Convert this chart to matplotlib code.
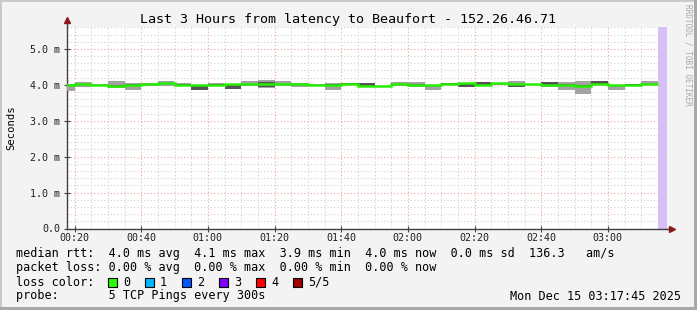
import matplotlib
matplotlib.use("Agg")
import matplotlib.pyplot as plt
from matplotlib.patches import Rectangle
import numpy as np

# ---------------- data ----------------
# interval start times in minutes after midnight (5-minute steps)
step_start = [15, 20, 25, 30, 35, 40, 45, 50, 55, 60, 65, 70, 75, 80, 85, 90, 95, 100,
              105, 110, 115, 120, 125, 130, 135, 140, 145, 150, 155, 160, 165, 170,
              175, 180, 185, 190]
median_ms = [4.00, 4.02, 4.00, 3.98, 4.00, 4.03, 4.06, 4.00, 4.00, 4.00, 4.02, 4.03,
             4.02, 4.02, 4.03, 4.00, 4.00, 4.02, 3.98, 3.97, 4.02, 4.00, 4.00, 4.01,
             4.04, 3.99, 4.05, 4.03, 4.02, 3.99, 4.00, 3.98, 4.02, 3.99, 4.00, 4.01]
smoke_lo = [3.84, 3.94, 3.98, 3.90, 3.86, 3.98, 3.97, 3.97, 3.86, 3.97, 3.88, 3.97,
            3.90, 3.97, 3.93, 3.96, 3.85, 3.99, 3.97, 3.96, 3.97, 3.94, 3.85, 4.00,
            3.93, 3.97, 4.00, 3.95, 3.99, 3.93, 3.85, 3.75, 4.00, 3.86, 3.98, 4.00]
smoke_hi = [4.02, 4.08, 4.01, 4.11, 4.05, 4.05, 4.11, 4.05, 4.00, 4.04, 4.02, 4.10,
            4.13, 4.10, 4.05, 4.01, 4.05, 4.05, 4.05, 3.98, 4.07, 4.08, 4.00, 4.05,
            4.05, 4.08, 4.06, 4.11, 4.03, 4.07, 4.08, 4.11, 4.10, 4.00, 4.02, 4.10]
inner_lo = [3.98, 3.99, 3.97, 3.96, 3.97, 4.00, 4.03, 3.99, 3.86, 3.99, 3.89, 4.00,
            3.93, 4.00, 4.00, 3.97, 3.99, 4.00, 3.98, 3.97, 4.00, 3.99, 3.99, 4.00,
            3.95, 3.99, 4.03, 3.95, 4.01, 3.97, 3.96, 3.97, 4.02, 3.98, 3.99, 4.01]
inner_hi = [4.00, 4.02, 4.00, 3.99, 4.01, 4.03, 4.06, 4.01, 4.00, 4.01, 4.01, 4.03,
            4.07, 4.02, 4.03, 4.00, 4.01, 4.05, 4.05, 3.97, 4.03, 4.01, 4.00, 4.05,
            4.03, 4.08, 4.05, 4.00, 4.02, 4.07, 4.02, 4.00, 4.10, 4.00, 4.01, 4.02]
unknown_span = [195, 197.75]
x_range = [17.75, 197.75]
y_max = 5.61
x_ticks = [20, 40, 60, 80, 100, 120, 140, 160, 180]
x_tick_labels = ["00:20", "00:40", "01:00", "01:20", "01:40", "02:00", "02:20", "02:40", "03:00"]
y_ticks = [0.0, 1.0, 2.0, 3.0, 4.0, 5.0]
y_tick_labels = ["0.0", "1.0 m", "2.0 m", "3.0 m", "4.0 m", "5.0 m"]

title = "Last 3 Hours from latency to Beaufort - 152.26.46.71"
line_rtt = "median rtt:  4.0 ms avg  4.1 ms max  3.9 ms min  4.0 ms now  0.0 ms sd  136.3   am/s"
line_loss = "packet loss: 0.00 % avg  0.00 % max  0.00 % min  0.00 % now"
loss_labels = ["0", "1", "2", "3", "4", "5/5"]
loss_colors = ["#26ff00", "#00b8ff", "#0059ff", "#7e00ff", "#ff0000", "#a10000"]
line_probe = "probe:       5 TCP Pings every 300s"
stamp = "Mon Dec 15 03:17:45 2025"

# ---------------- figure ----------------
W, H = 697, 310
fig = plt.figure(figsize=(W / 100, H / 100), dpi=100)
fig.patch.set_facecolor("#f3f3f3")
mono = "DejaVu Sans Mono"

def fx(px):
    return px / W

def fy(py):
    return 1 - py / H

# frame
fig.patches.append(Rectangle((0, 0), 1, 1, transform=fig.transFigure, fill=False,
                             edgecolor="#c8c8c8", linewidth=2.0, zorder=0))
fig.patches.append(Rectangle((fx(W - 3), 0), fx(3), 1, transform=fig.transFigure,
                             facecolor="#a8a8a8", edgecolor="none", zorder=0))
fig.patches.append(Rectangle((0, 0), 1, 3 / H, transform=fig.transFigure,
                             facecolor="#a8a8a8", edgecolor="none", zorder=0))

ax_l, ax_r, ax_t, ax_b = 67, 667, 27, 228.5
ax = fig.add_axes([fx(ax_l), fy(ax_b), fx(ax_r - ax_l), (ax_b - ax_t) / H])
ax.set_facecolor("white")
ax.set_xlim(*x_range)
ax.set_ylim(0, y_max)

# grid
for xv in np.arange(20, 197, 5):
    if xv % 20 == 0:
        ax.axvline(xv, color="#f4a0a0", lw=0.8, ls=(0, (1, 2)), zorder=1)
    else:
        ax.axvline(xv, color="#d0d0d0", lw=0.8, ls=(0, (1, 2)), zorder=1)
for yv in np.arange(0.2, y_max, 0.2):
    if abs(yv - round(yv)) < 1e-6:
        ax.axhline(yv, color="#f4a0a0", lw=0.8, ls=(0, (1, 2)), zorder=1)
    else:
        ax.axhline(yv, color="#d0d0d0", lw=0.8, ls=(0, (1, 2)), zorder=1)

# unknown area
ax.axvspan(unknown_span[0], unknown_span[1], color="#d6c0f6", lw=0, zorder=2)

# smoke
starts = np.array(step_start, dtype=float)
lo = np.array(smoke_lo); hi = np.array(smoke_hi)
ilo = np.array(inner_lo); ihi = np.array(inner_hi)
ax.bar(starts, hi - lo, width=5, bottom=lo, align="edge", color="#a2a2a2", lw=0, zorder=3)
ax.bar(starts, ihi - ilo, width=5, bottom=ilo, align="edge", color="#545454", lw=0, zorder=4)

# median
edges = np.append(starts, starts[-1] + 5)
ax.stairs(median_ms, edges, baseline=None, color="#26ee00", lw=1.8, zorder=5)

# axes styling
for s in ["top", "right"]:
    ax.spines[s].set_visible(False)
for s in ["left", "bottom"]:
    ax.spines[s].set_color("#404040")
    ax.spines[s].set_linewidth(1.0)
ax.set_xticks(x_ticks)
ax.set_xticklabels(x_tick_labels, fontfamily=mono, fontsize=7.2, color="#202020")
ax.set_yticks(y_ticks)
ax.set_yticklabels(y_tick_labels, fontfamily=mono, fontsize=7.2, color="#202020")
ax.tick_params(axis="both", direction="inout", length=4, width=0.8, color="#404040")
ax.tick_params(axis="y", pad=3)
ax.tick_params(axis="x", pad=1.5)

# axis arrows
ax.plot([0, 0], [1, 1.035], transform=ax.transAxes, color="#404040", lw=1.0, clip_on=False)
ax.plot([0], [1.035], marker="^", ms=4.5, color="#8b1a1a", transform=ax.transAxes, clip_on=False)
ax.plot([1, 1.008], [0, 0], transform=ax.transAxes, color="#404040", lw=1.0, clip_on=False)
ax.plot([1.008], [0], marker=">", ms=4.5, color="#8b1a1a", transform=ax.transAxes, clip_on=False)

# texts
fig.text(fx(348), fy(19), title, ha="center", va="center", fontfamily=mono, fontsize=9.6, color="#000000")
fig.text(fx(11), fy(128), "Seconds", ha="center", va="center", rotation=90, fontfamily=mono,
         fontsize=7.6, color="#000000")
fig.text(fx(688), fy(4), "RRDTOOL / TOBI OETIKER", ha="center", va="top", rotation=270,
         fontfamily=mono, fontsize=5.6, color="#a8a8a8")

fs = 8.5
fig.text(fx(16), fy(254), line_rtt, ha="left", va="center", fontfamily=mono, fontsize=fs)
fig.text(fx(16), fy(268), line_loss, ha="left", va="center", fontfamily=mono, fontsize=fs)
fig.text(fx(16), fy(282), "loss color:", ha="left", va="center", fontfamily=mono, fontsize=fs)
for i, (lab, col) in enumerate(zip(loss_labels, loss_colors)):
    bx = 108 + i * 37
    fig.patches.append(Rectangle((fx(bx), fy(286.5)), fx(9), 9 / H, transform=fig.transFigure,
                                 facecolor=col, edgecolor="#000000", linewidth=0.8))
    fig.text(fx(bx + 15), fy(282), lab, ha="left", va="center", fontfamily=mono, fontsize=fs)
fig.text(fx(16), fy(296), line_probe, ha="left", va="center", fontfamily=mono, fontsize=fs)
fig.text(fx(681), fy(296), stamp, ha="right", va="center", fontfamily=mono, fontsize=fs)

fig.savefig("out.png", dpi=100, facecolor=fig.get_facecolor())
